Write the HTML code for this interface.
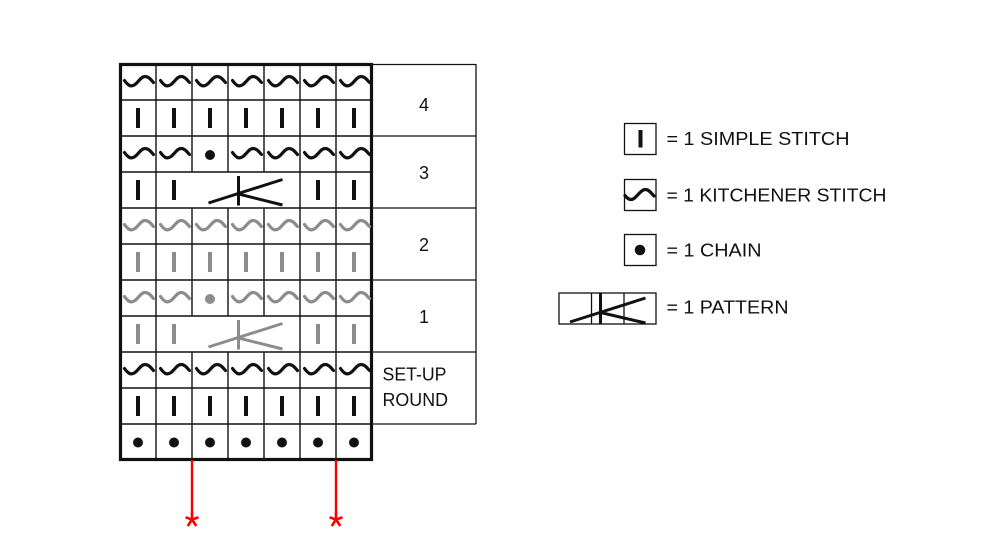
<!DOCTYPE html>
<html>
<head>
<meta charset="utf-8">
<style>
html,body{margin:0;padding:0;background:#fff;}
svg{display:block;}
text{font-family:"Liberation Sans",Arial,sans-serif;fill:#111;}
</style>
</head>
<body>
<svg width="1000" height="560" viewBox="0 0 1000 560" xmlns="http://www.w3.org/2000/svg">
<defs>
  <path id="wv" d="M4.5,16.5 C8,21.5 11,23.5 15,20.5 C19,17.5 21,12.5 25,12.5 C29,12.5 31,16 33.5,18.5" fill="none" stroke-width="3.2" stroke-linecap="round"/>
</defs>
<rect x="0" y="0" width="1000" height="560" fill="#fff"/>

<!-- label column boxes -->
<g stroke="#111" stroke-width="1.3" fill="none">
  <line x1="372" y1="64.5" x2="476" y2="64.5"/>
  <line x1="372" y1="136" x2="476" y2="136"/>
  <line x1="372" y1="208" x2="476" y2="208"/>
  <line x1="372" y1="280" x2="476" y2="280"/>
  <line x1="372" y1="352" x2="476" y2="352"/>
  <line x1="372" y1="424" x2="476" y2="424"/>
  <line x1="476" y1="64" x2="476" y2="424"/>
</g>
<g font-size="18" text-anchor="middle">
  <text x="424" y="111">4</text>
  <text x="424" y="179">3</text>
  <text x="424" y="251">2</text>
  <text x="424" y="323">1</text>
</g>
<text x="382.5" y="380.5" font-size="18" textLength="64" lengthAdjust="spacingAndGlyphs">SET-UP</text>
<text x="382.5" y="406" font-size="18" textLength="65.5" lengthAdjust="spacingAndGlyphs">ROUND</text>

<!-- internal grid lines -->
<g stroke="#111" stroke-width="1.4">
  <line x1="120" y1="100" x2="372" y2="100"/>
  <line x1="120" y1="136" x2="372" y2="136"/>
  <line x1="120" y1="172" x2="372" y2="172"/>
  <line x1="120" y1="208" x2="372" y2="208"/>
  <line x1="120" y1="244" x2="372" y2="244"/>
  <line x1="120" y1="280" x2="372" y2="280"/>
  <line x1="120" y1="316" x2="372" y2="316"/>
  <line x1="120" y1="352" x2="372" y2="352"/>
  <line x1="120" y1="388" x2="372" y2="388"/>
  <line x1="120" y1="424" x2="372" y2="424"/>
  <line x1="156" y1="64" x2="156" y2="460"/>
  <line x1="300" y1="64" x2="300" y2="460"/>
  <line x1="336" y1="64" x2="336" y2="460"/>
  <line x1="192" y1="64" x2="192" y2="172"/>
  <line x1="192" y1="208" x2="192" y2="316"/>
  <line x1="192" y1="352" x2="192" y2="460"/>
  <line x1="228" y1="64" x2="228" y2="172"/>
  <line x1="228" y1="208" x2="228" y2="316"/>
  <line x1="228" y1="352" x2="228" y2="460"/>
  <line x1="264" y1="64" x2="264" y2="172"/>
  <line x1="264" y1="208" x2="264" y2="316"/>
  <line x1="264" y1="352" x2="264" y2="460"/>
</g>

<!-- outer border -->
<rect x="120.5" y="64.5" width="251" height="395" fill="none" stroke="#111" stroke-width="3.2"/>

<!-- BLACK rows -->
<g stroke="#111" fill="#111">
  <use href="#wv" x="120" y="64"/><use href="#wv" x="156" y="64"/><use href="#wv" x="192" y="64"/><use href="#wv" x="228" y="64"/><use href="#wv" x="264" y="64"/><use href="#wv" x="300" y="64"/><use href="#wv" x="336" y="64"/>
  <use href="#wv" x="120" y="136"/><use href="#wv" x="156" y="136"/><use href="#wv" x="228" y="136"/><use href="#wv" x="264" y="136"/><use href="#wv" x="300" y="136"/><use href="#wv" x="336" y="136"/>
  <use href="#wv" x="120" y="352"/><use href="#wv" x="156" y="352"/><use href="#wv" x="192" y="352"/><use href="#wv" x="228" y="352"/><use href="#wv" x="264" y="352"/><use href="#wv" x="300" y="352"/><use href="#wv" x="336" y="352"/>
</g>
<g fill="#111" stroke="none">
  <rect x="136" y="108" width="4" height="20"/><rect x="172" y="108" width="4" height="20"/><rect x="208" y="108" width="4" height="20"/><rect x="244" y="108" width="4" height="20"/><rect x="280" y="108" width="4" height="20"/><rect x="316" y="108" width="4" height="20"/><rect x="352" y="108" width="4" height="20"/>
  <rect x="136" y="180" width="4" height="20"/><rect x="172" y="180" width="4" height="20"/><rect x="316" y="180" width="4" height="20"/><rect x="352" y="180" width="4" height="20"/>
  <rect x="136" y="396" width="4" height="20"/><rect x="172" y="396" width="4" height="20"/><rect x="208" y="396" width="4" height="20"/><rect x="244" y="396" width="4" height="20"/><rect x="280" y="396" width="4" height="20"/><rect x="316" y="396" width="4" height="20"/><rect x="352" y="396" width="4" height="20"/>
  <circle cx="210" cy="155" r="5"/>
  <circle cx="138" cy="442.5" r="5"/><circle cx="174" cy="442.5" r="5"/><circle cx="210" cy="442.5" r="5"/><circle cx="246" cy="442.5" r="5"/><circle cx="282" cy="442.5" r="5"/><circle cx="318" cy="442.5" r="5"/><circle cx="354" cy="442.5" r="5"/>
</g>
<g stroke="#111" stroke-width="3" stroke-linecap="butt">
  <line x1="238.5" y1="176" x2="238.5" y2="205.5"/>
  <line x1="208.5" y1="203" x2="282.5" y2="179.5"/>
  <line x1="238.5" y1="194" x2="282.5" y2="205"/>
</g>

<!-- GREY rows -->
<g stroke="#8c8c8c" fill="#8c8c8c">
  <use href="#wv" x="120" y="208"/><use href="#wv" x="156" y="208"/><use href="#wv" x="192" y="208"/><use href="#wv" x="228" y="208"/><use href="#wv" x="264" y="208"/><use href="#wv" x="300" y="208"/><use href="#wv" x="336" y="208"/>
  <use href="#wv" x="120" y="280"/><use href="#wv" x="156" y="280"/><use href="#wv" x="228" y="280"/><use href="#wv" x="264" y="280"/><use href="#wv" x="300" y="280"/><use href="#wv" x="336" y="280"/>
</g>
<g fill="#8c8c8c" stroke="none">
  <rect x="136" y="252" width="4" height="20"/><rect x="172" y="252" width="4" height="20"/><rect x="208" y="252" width="4" height="20"/><rect x="244" y="252" width="4" height="20"/><rect x="280" y="252" width="4" height="20"/><rect x="316" y="252" width="4" height="20"/><rect x="352" y="252" width="4" height="20"/>
  <rect x="136" y="324" width="4" height="20"/><rect x="172" y="324" width="4" height="20"/><rect x="316" y="324" width="4" height="20"/><rect x="352" y="324" width="4" height="20"/>
  <circle cx="210" cy="299" r="5"/>
</g>
<g stroke="#8c8c8c" stroke-width="3">
  <line x1="238.5" y1="320" x2="238.5" y2="349.5"/>
  <line x1="208.5" y1="347" x2="282.5" y2="323.5"/>
  <line x1="238.5" y1="338" x2="282.5" y2="349"/>
</g>

<!-- red markers -->
<g stroke="#ff0000" stroke-width="2.4" stroke-linecap="butt">
  <line x1="192" y1="460" x2="192" y2="512"/>
  <line x1="336" y1="460" x2="336" y2="512"/>
</g>
<g stroke="#ff0000" stroke-width="2.6" stroke-linecap="butt">
  <g transform="translate(192,519.5)">
    <line x1="0" y1="0" x2="0" y2="-7.5"/>
    <line x1="0" y1="0" x2="6.5" y2="-2.2"/>
    <line x1="0" y1="0" x2="-6.5" y2="-2.2"/>
    <line x1="0" y1="0" x2="4.3" y2="6.5"/>
    <line x1="0" y1="0" x2="-4.3" y2="6.5"/>
  </g>
  <g transform="translate(336,519.5)">
    <line x1="0" y1="0" x2="0" y2="-7.5"/>
    <line x1="0" y1="0" x2="6.5" y2="-2.2"/>
    <line x1="0" y1="0" x2="-6.5" y2="-2.2"/>
    <line x1="0" y1="0" x2="4.3" y2="6.5"/>
    <line x1="0" y1="0" x2="-4.3" y2="6.5"/>
  </g>
</g>

<!-- LEGEND -->
<g stroke="#111" stroke-width="1.3" fill="none">
  <rect x="624.5" y="123.5" width="31.5" height="31"/>
  <rect x="624.5" y="179.5" width="31.5" height="31"/>
  <rect x="624.5" y="234.5" width="31.5" height="31"/>
  <rect x="559" y="293" width="97" height="31"/>
  <line x1="591.5" y1="293" x2="591.5" y2="324"/>
  <line x1="624" y1="293" x2="624" y2="324"/>
</g>
<rect x="638.5" y="130" width="4" height="17.5" fill="#111"/>
<path d="M625,195.5 C628,199.5 631,200.5 634,198.5 C638,195.5 641,189.5 645.5,189.5 C649,189.5 651,193 654,196" fill="none" stroke="#111" stroke-width="3.2" stroke-linecap="round"/>
<circle cx="640" cy="250" r="5.3" fill="#111"/>
<g stroke="#111" stroke-width="3">
  <line x1="600.5" y1="293.5" x2="600.5" y2="323.5"/>
  <line x1="570" y1="322" x2="645.5" y2="298"/>
  <line x1="600.5" y1="312.5" x2="645.5" y2="323"/>
</g>
<g font-size="18.5">
  <text x="666.5" y="145" textLength="183" lengthAdjust="spacingAndGlyphs">= 1 SIMPLE STITCH</text>
  <text x="666.5" y="201.5" textLength="220" lengthAdjust="spacingAndGlyphs">= 1 KITCHENER STITCH</text>
  <text x="666.5" y="256.5" textLength="95" lengthAdjust="spacingAndGlyphs">= 1 CHAIN</text>
  <text x="666.5" y="313.5" textLength="122" lengthAdjust="spacingAndGlyphs">= 1 PATTERN</text>
</g>
</svg>
</body>
</html>
